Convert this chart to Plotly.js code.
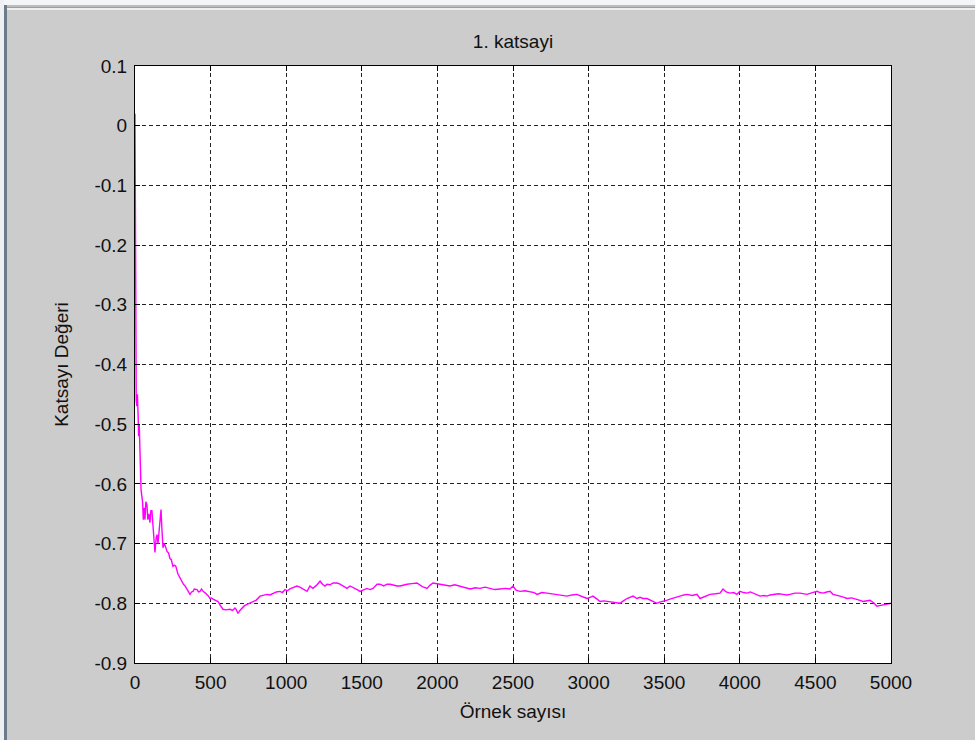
<!DOCTYPE html>
<html>
<head>
<meta charset="utf-8">
<script src="https://cdn.plot.ly/plotly-3.0.1.min.js"></script>
<style>
  html, body { margin: 0; padding: 0; background: #cccccc; }
  #wrap { position: relative; width: 975px; height: 740px; overflow: hidden; }
  #chart { position: absolute; left: 0; top: 0; width: 975px; height: 740px; }
  .edge { position: absolute; pointer-events: none; }
</style>
</head>
<body>
<div id="wrap">
  <div id="chart"></div>
  <!-- window frame edges -->
  <div class="edge" style="left:0;top:0;width:975px;height:5px;background:#f4f5f7;"></div>
  <div class="edge" style="left:0;top:5px;width:975px;height:2px;background:#bdbdbd;"></div>
  <div class="edge" style="left:0;top:7px;width:975px;height:1px;background:#9e9e9e;"></div>
  <div class="edge" style="left:0;top:8px;width:975px;height:2px;background:#eeeeee;"></div>
  <div class="edge" style="left:0;top:0;width:4px;height:740px;background:#eef0f3;"></div>
  <div class="edge" style="left:4px;top:5px;width:3px;height:735px;background:#6c7a8c;"></div>
</div>
<script>
// Sample index (Örnek sayısı)
const sampleIndex = [
  0, 2, 5, 8, 12, 16, 20, 24, 28, 32, 36, 40, 45, 50, 55, 60, 66, 72, 79, 85,
  92, 99, 105, 112, 119, 125, 132, 140, 146, 152, 160, 166, 172, 178, 185, 195,
  212, 222, 231, 240, 251, 262, 270, 284, 292, 300, 311, 320, 331, 341, 351, 364,
  374, 384, 392, 400, 410, 420, 430, 440, 450, 462, 476, 486, 496, 506, 516, 532,
  549, 565, 582, 600, 614, 628, 645, 661, 671, 681, 694, 708, 724, 741, 760, 780,
  800, 827, 850, 873, 893, 913, 935, 959, 975, 992, 1008, 1025, 1048, 1071, 1090, 1111,
  1125, 1138, 1157, 1177, 1200, 1224, 1240, 1257, 1270, 1290, 1310, 1336, 1356, 1380, 1402, 1422,
  1440, 1455, 1475, 1488, 1510, 1534, 1555, 1574, 1601, 1620, 1645, 1667, 1687, 1710, 1733, 1753,
  1775, 1799, 1830, 1852, 1865, 1900, 1931, 1950, 1971, 2017, 2050, 2083, 2115, 2150, 2185, 2216,
  2250, 2282, 2315, 2348, 2380, 2414, 2450, 2480, 2500, 2520, 2546, 2580, 2613, 2640, 2659, 2690,
  2725, 2760, 2791, 2825, 2857, 2890, 2923, 2960, 2990, 3010, 3029, 3056, 3076, 3100, 3122, 3142,
  3170, 3195, 3208, 3230, 3254, 3294, 3320, 3340, 3360, 3386, 3410, 3426, 3452, 3470, 3492, 3515,
  3538, 3570, 3604, 3630, 3651, 3685, 3717, 3737, 3770, 3803, 3840, 3869, 3889, 3910, 3935, 3960,
  3981, 4001, 4025, 4048, 4070, 4088, 4110, 4134, 4160, 4180, 4200, 4220, 4255, 4286, 4310, 4332,
  4365, 4398, 4420, 4445, 4480, 4511, 4530, 4550, 4575, 4597, 4616, 4640, 4663, 4690, 4709, 4740,
  4775, 4795, 4815, 4840, 4861, 4885, 4907, 4925, 4947, 4970, 4993, 5000
];

// First coefficient value (Katsayı Değeri)
const coefValue = [
  0.02, -0.29, -0.44, -0.46, -0.47, -0.45, -0.48, -0.52, -0.50, -0.55, -0.58, -0.61, -0.62, -0.63, -0.66, -0.64, -0.66, -0.63, -0.635, -0.66,
  -0.65, -0.665, -0.645, -0.645, -0.67, -0.70, -0.715, -0.69, -0.685, -0.70, -0.68, -0.665, -0.643, -0.675, -0.707, -0.70,
  -0.713, -0.716, -0.725, -0.727, -0.738, -0.736, -0.738, -0.751, -0.755, -0.76, -0.766, -0.768, -0.771, -0.776, -0.78, -0.785,
  -0.781, -0.78, -0.776, -0.777, -0.777, -0.781, -0.78, -0.776, -0.78, -0.782, -0.785, -0.788, -0.792, -0.791, -0.793, -0.795,
  -0.797, -0.804, -0.81, -0.811, -0.81, -0.81, -0.812, -0.808, -0.811, -0.817, -0.812, -0.808, -0.804, -0.802, -0.800, -0.797,
  -0.795, -0.788, -0.787, -0.785, -0.786, -0.783, -0.781, -0.78, -0.782, -0.777, -0.779, -0.776, -0.773, -0.771, -0.773, -0.776,
  -0.778, -0.78, -0.771, -0.775, -0.770, -0.763, -0.768, -0.771, -0.768, -0.769, -0.766, -0.766, -0.768, -0.772, -0.775, -0.771,
  -0.773, -0.775, -0.778, -0.78, -0.777, -0.775, -0.777, -0.775, -0.768, -0.768, -0.771, -0.768, -0.768, -0.770, -0.771, -0.771,
  -0.769, -0.768, -0.767, -0.766, -0.766, -0.772, -0.775, -0.770, -0.766, -0.768, -0.770, -0.771, -0.769, -0.771, -0.774, -0.776,
  -0.774, -0.775, -0.773, -0.775, -0.777, -0.776, -0.775, -0.776, -0.771, -0.778, -0.780, -0.779, -0.780, -0.782, -0.785, -0.782,
  -0.783, -0.784, -0.785, -0.787, -0.788, -0.786, -0.785, -0.789, -0.792, -0.790, -0.788, -0.793, -0.797, -0.796, -0.797, -0.797,
  -0.799, -0.800, -0.800, -0.796, -0.792, -0.788, -0.792, -0.790, -0.792, -0.792, -0.795, -0.797, -0.800, -0.798, -0.797, -0.795,
  -0.793, -0.790, -0.788, -0.786, -0.785, -0.787, -0.785, -0.792, -0.788, -0.785, -0.784, -0.783, -0.776, -0.781, -0.783, -0.782,
  -0.785, -0.780, -0.782, -0.783, -0.781, -0.783, -0.786, -0.788, -0.787, -0.788, -0.786, -0.785, -0.784, -0.785, -0.786, -0.785,
  -0.783, -0.783, -0.784, -0.785, -0.782, -0.780, -0.782, -0.783, -0.781, -0.780, -0.785, -0.786, -0.788, -0.790, -0.792, -0.791,
  -0.793, -0.795, -0.797, -0.796, -0.795, -0.799, -0.805, -0.804, -0.803, -0.801, -0.800, -0.800
];

const xTicks = [0, 500, 1000, 1500, 2000, 2500, 3000, 3500, 4000, 4500, 5000];
const yTicks = [0.1, 0, -0.1, -0.2, -0.3, -0.4, -0.5, -0.6, -0.7, -0.8, -0.9];

const labelFont = { family: '"Liberation Sans", Arial, sans-serif', size: 19, color: '#111111' };

const trace = {
  x: sampleIndex,
  y: coefValue,
  type: 'scatter',
  mode: 'lines',
  line: { color: '#ff00ff', width: 1.4 },
  hoverinfo: 'x+y'
};

const axisCommon = {
  showline: true,
  linecolor: '#000000',
  linewidth: 1,
  mirror: 'ticks',
  ticks: 'inside',
  ticklen: 5,
  tickcolor: '#000000',
  showgrid: true,
  gridcolor: '#222222',
  gridwidth: 1,
  griddash: '4px,3px',
  zeroline: false,
  tickfont: labelFont
};

const layout = {
  width: 975,
  height: 740,
  paper_bgcolor: '#cccccc',
  plot_bgcolor: '#ffffff',
  margin: { l: 135, r: 84, t: 66, b: 77 },
  showlegend: false,
  title: {
    text: '1. katsayi',
    font: labelFont,
    x: 0.5,
    xref: 'paper',
    xanchor: 'center',
    y: 1,
    yref: 'paper',
    yanchor: 'bottom',
    pad: { b: 18 }
  },
  xaxis: Object.assign({}, axisCommon, {
    range: [0, 5000],
    tickvals: xTicks,
    ticktext: xTicks.map(String),
    ticklabelstandoff: 2,
    title: { text: 'Örnek sayısı', font: labelFont, standoff: 12 }
  }),
  yaxis: Object.assign({}, axisCommon, {
    range: [-0.9, 0.1],
    tickvals: yTicks,
    ticktext: yTicks.map(v => String(Math.round(v * 10) / 10)),
    ticklabelstandoff: 3,
    title: { text: 'Katsayı Değeri', font: labelFont, standoff: 20 }
  })
};

Plotly.newPlot('chart', [trace], layout, { displayModeBar: false, staticPlot: true });
</script>
</body>
</html>
